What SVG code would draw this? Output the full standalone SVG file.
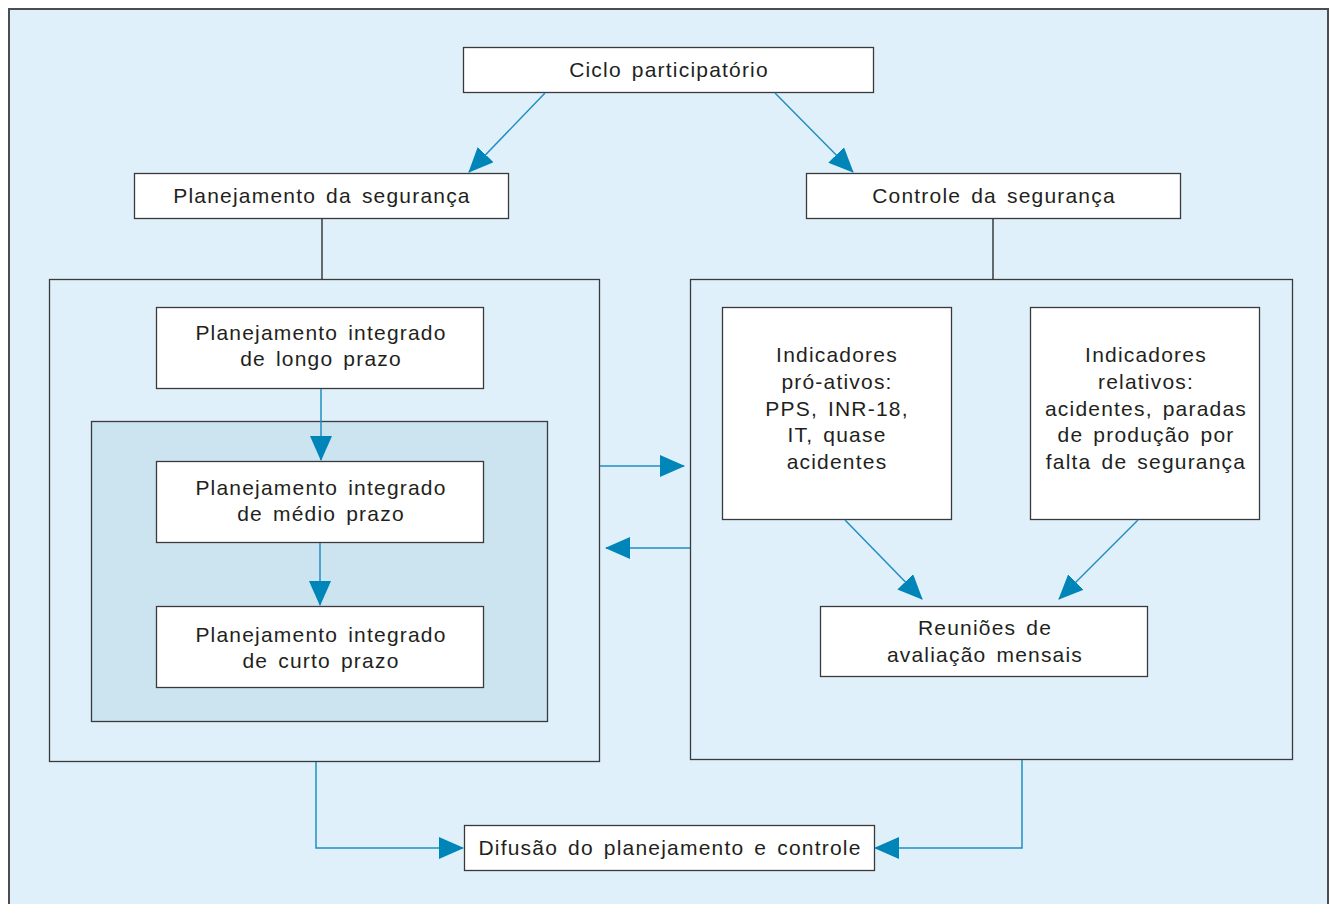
<svg xmlns="http://www.w3.org/2000/svg" width="1333" height="904" viewBox="0 0 1333 904">
<defs>
<style>
.bg{fill:#ffffff}
.frame{fill:#dff0fa;stroke:#4d4d4f;stroke-width:2}
.box{fill:#ffffff;stroke:#3a3a3c;stroke-width:1.3}
.group{fill:#dff0fa;stroke:#3a3a3c;stroke-width:1.3}
.inner{fill:#cbe4f0;stroke:#3a3a3c;stroke-width:1.3}
.t{font-family:"Liberation Sans","DejaVu Sans",sans-serif;font-size:21px;fill:#231f20;text-anchor:middle;letter-spacing:1.2px;word-spacing:3px}
.c{fill:none;stroke:#1f8fc0;stroke-width:1.5}
.k{fill:none;stroke:#231f20;stroke-width:1.3}
</style>
<marker id="ah" markerUnits="userSpaceOnUse" markerWidth="26" markerHeight="22" viewBox="0 0 26 22" refX="24" refY="11" orient="auto">
<path d="M0,0 L25,11 L0,22 Z" fill="#0085b9"/>
</marker>
</defs>
<rect x="0" y="0" width="1333" height="904" class="bg"/>
<rect id="frame" x="9" y="9" width="1319" height="910" class="frame"/>

<g id="ciclo"><rect x="463.5" y="47.5" width="410" height="45" class="box"/><text x="669" y="77" class="t">Ciclo participatório</text></g>
<g id="planejamento"><rect x="134.5" y="173.5" width="374" height="45" class="box"/><text x="322" y="203" class="t">Planejamento da segurança</text></g>
<g id="controle"><rect x="806.5" y="173.5" width="374" height="45" class="box"/><text x="994" y="203" class="t">Controle da segurança</text></g>

<g id="left-group"><rect x="49.5" y="279.5" width="550" height="482" class="group"/></g>
<g id="inner-group"><rect x="91.5" y="421.5" width="456" height="300" class="inner"/></g>
<g id="longo"><rect x="156.5" y="307.5" width="327" height="81" class="box"/><text x="321" y="340" class="t">Planejamento integrado</text><text x="321" y="366" class="t">de longo prazo</text></g>
<g id="medio"><rect x="156.5" y="461.5" width="327" height="81" class="box"/><text x="321" y="495" class="t">Planejamento integrado</text><text x="321" y="521" class="t">de médio prazo</text></g>
<g id="curto"><rect x="156.5" y="606.5" width="327" height="81" class="box"/><text x="321" y="642" class="t">Planejamento integrado</text><text x="321" y="668" class="t">de curto prazo</text></g>

<g id="right-group"><rect x="690.5" y="279.5" width="602" height="480" class="group"/></g>
<g id="proativos"><rect x="722.5" y="307.5" width="229" height="212" class="box"/>
<text x="837" y="362" class="t">Indicadores</text><text x="837" y="389" class="t">pró-ativos:</text><text x="837" y="416" class="t">PPS, INR-18,</text><text x="837" y="442" class="t">IT, quase</text><text x="837" y="469" class="t">acidentes</text></g>
<g id="relativos"><rect x="1030.5" y="307.5" width="229" height="212" class="box"/>
<text x="1146" y="362" class="t">Indicadores</text><text x="1146" y="389" class="t">relativos:</text><text x="1146" y="416" class="t">acidentes, paradas</text><text x="1146" y="442" class="t">de produção por</text><text x="1146" y="469" class="t">falta de segurança</text></g>
<g id="reunioes"><rect x="820.5" y="606.5" width="327" height="70" class="box"/><text x="985" y="635" class="t">Reuniões de</text><text x="985" y="662" class="t">avaliação mensais</text></g>

<g id="difusao"><rect x="464.5" y="825.5" width="410" height="45" class="box"/><text x="670" y="855" class="t">Difusão do planejamento e controle</text></g>

<g id="connectors">
<line x1="322" y1="219" x2="322" y2="279" class="k"/>
<line x1="993" y1="219" x2="993" y2="279" class="k"/>
<line x1="545" y1="93" x2="469" y2="172" class="c" marker-end="url(#ah)"/>
<line x1="775" y1="93" x2="853" y2="172" class="c" marker-end="url(#ah)"/>
<line x1="600" y1="466" x2="684" y2="466" class="c" marker-end="url(#ah)"/>
<line x1="690" y1="548" x2="606" y2="548" class="c" marker-end="url(#ah)"/>
<line x1="321" y1="389" x2="321" y2="460" class="c" marker-end="url(#ah)"/>
<line x1="320" y1="543" x2="320" y2="605" class="c" marker-end="url(#ah)"/>
<line x1="845" y1="520" x2="922" y2="599" class="c" marker-end="url(#ah)"/>
<line x1="1138" y1="520" x2="1059" y2="599" class="c" marker-end="url(#ah)"/>
<polyline points="316,762 316,848 463,848" class="c" marker-end="url(#ah)"/>
<polyline points="1022,760 1022,848 875,848" class="c" marker-end="url(#ah)"/>
</g>
</svg>
